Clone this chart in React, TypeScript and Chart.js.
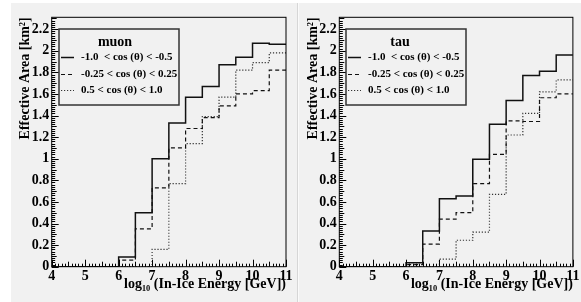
import React, { useEffect, useRef } from 'react';
import { Chart, registerables } from 'chart.js';

Chart.register(...registerables);

// ---------- data ----------
const BIN_EDGES = [4, 4.5, 5, 5.5, 6, 6.5, 7, 7.5, 8, 8.5, 9, 9.5, 10, 10.5, 11];
const SERIES_LABELS = ['-1.0  < cos (θ) < -0.5', '-0.25 < cos (θ) < 0.25', '0.5 < cos (θ) < 1.0'];

const MUON_SOLID = [0, 0, 0, 0, 0.09, 0.50, 1.00, 1.33, 1.57, 1.67, 1.87, 1.94, 2.07, 2.06];
const MUON_DASHED = [0, 0, 0, 0, 0.06, 0.35, 0.73, 1.10, 1.28, 1.38, 1.49, 1.60, 1.63, 1.82];
const MUON_DOTTED = [0, 0, 0, 0, 0, 0, 0.16, 0.77, 1.14, 1.39, 1.57, 1.82, 1.89, 1.98];

const TAU_SOLID = [0, 0, 0, 0, 0.037, 0.33, 0.63, 0.655, 0.995, 1.32, 1.54, 1.77, 1.81, 1.96];
const TAU_DASHED = [0, 0, 0, 0, 0.02, 0.21, 0.44, 0.50, 0.77, 1.04, 1.35, 1.345, 1.565, 1.60];
const TAU_DOTTED = [0, 0, 0, 0, 0, 0, 0.07, 0.245, 0.32, 0.67, 1.22, 1.42, 1.62, 1.73];

const X_TICKS = [4, 5, 6, 7, 8, 9, 10, 11];
const Y_TICKS = [0, 0.2, 0.4, 0.6, 0.8, 1, 1.2, 1.4, 1.6, 1.8, 2, 2.2];
const X_MIN = 4;
const X_MAX = 11;
const Y_MAX = 2.31;

const X_TITLE = 'log₁₀ (In-Ice Energy [GeV])';
const Y_TITLE = 'Effective Area [km²]';

const FONT = "'Liberation Serif', 'Times New Roman', serif";

function histPoints(vals: number[]) {
  return BIN_EDGES.map((e, i) => ({ x: e, y: i < vals.length ? vals[i] : vals[vals.length - 1] }));
}

const STYLES = [
  { dash: [] as number[], width: 1.5, color: '#111' },
  { dash: [4, 3], width: 1.2, color: '#111' },
  { dash: [1.2, 1.8], width: 1.2, color: '#333' },
];

const rootPlugin = {
  id: 'rootStyle',
  afterDatasetsDraw(chart: any, _args: any, opts: any) {
    const { ctx, chartArea: ca, scales } = chart;
    const xs = scales.x;
    const ys = scales.y;
    ctx.save();
    ctx.strokeStyle = '#000';
    ctx.lineWidth = 1;
    ctx.setLineDash([]);
    ctx.strokeRect(ca.left, ca.top, ca.right - ca.left, ca.bottom - ca.top);

    // x axis ticks (inside)
    const xStep = (X_TICKS[1] - X_TICKS[0]) / 10;
    const nx = Math.round((X_MAX - X_MIN) / xStep);
    ctx.beginPath();
    for (let i = 0; i <= nx; i++) {
      const v = X_MIN + i * xStep;
      const px = Math.round(xs.getPixelForValue(v)) + 0.5;
      const len = i % 10 === 0 ? 7 : i % 5 === 0 ? 5 : 3;
      ctx.moveTo(px, ca.bottom);
      ctx.lineTo(px, ca.bottom - len);
    }
    // y axis ticks (inside)
    const yStep = (Y_TICKS[1] - Y_TICKS[0]) / 10;
    for (let i = 0; i * yStep <= Y_MAX + 1e-9; i++) {
      const v = i * yStep;
      const py = Math.round(ys.getPixelForValue(v)) + 0.5;
      const len = i % 10 === 0 ? 7 : i % 5 === 0 ? 5 : 3.5;
      ctx.moveTo(ca.left, py);
      ctx.lineTo(ca.left + len, py);
    }
    ctx.stroke();

    // legend box
    const L = opts.legend;
    ctx.fillStyle = '#f1f1f1';
    ctx.fillRect(L.x, L.y, L.w, L.h);
    ctx.strokeStyle = '#333';
    ctx.lineWidth = 1.5;
    ctx.strokeRect(L.x, L.y, L.w, L.h);

    ctx.fillStyle = '#000';
    ctx.textBaseline = 'middle';
    ctx.textAlign = 'center';
    ctx.font = `bold ${L.titleSize}px ${FONT}`;
    ctx.fillText(L.title, L.titleX, L.titleY);

    ctx.textAlign = 'left';
    ctx.font = `bold ${L.textSize}px ${FONT}`;
    chart.data.datasets.forEach((ds: any, i: number) => {
      const yy = L.rows[i];
      ctx.beginPath();
      ctx.strokeStyle = ds.borderColor;
      ctx.lineWidth = ds.borderWidth;
      ctx.setLineDash(ds.borderDash || []);
      ctx.moveTo(L.s0, yy + 0.5);
      ctx.lineTo(L.s1, yy + 0.5);
      ctx.stroke();
      ctx.fillText(ds.label, L.tx, yy);
    });
    ctx.restore();
  },
};

type PanelProps = {
  series: number[][];
  width: number;
  height: number;
  padRight: number;
  yWidth: number;
  legend: any;
};

function Panel({ series, width, height, padRight, yWidth, legend }: PanelProps) {
  const ref = useRef<HTMLCanvasElement | null>(null);
  useEffect(() => {
    if (!ref.current) return;
    const chart = new Chart(ref.current, {
      type: 'line',
      data: {
        datasets: series.map((vals, i) => ({
          label: SERIES_LABELS[i],
          data: histPoints(vals),
          stepped: 'before' as const,
          borderColor: STYLES[i].color,
          borderWidth: STYLES[i].width,
          borderDash: STYLES[i].dash,
          pointRadius: 0,
          fill: false,
        })),
      },
      options: {
        animation: false,
        responsive: false,
        events: [],
        layout: { padding: { left: 0, right: padRight, top: 14.3, bottom: 0 } },
        plugins: {
          legend: { display: false },
          tooltip: { enabled: false },
          rootStyle: { legend },
        } as any,
        scales: {
          x: {
            type: 'linear',
            min: X_MIN,
            max: X_MAX,
            afterBuildTicks: (s: any) => { s.ticks = X_TICKS.map((v) => ({ value: v })); },
            afterFit: (s: any) => { s.height = 35.3; },
            grid: { display: false, drawTicks: false },
            border: { display: false },
            ticks: {
              padding: 1.5,
              color: '#000',
              font: { family: FONT, size: 14, weight: 'bold' },
              callback: (v: any) => String(v),
            },
            title: {
              display: true,
              text: X_TITLE,
              align: 'end',
              color: '#000',
              font: { family: FONT, size: 14, weight: 'bold' },
              padding: { top: 0, bottom: 9.2 },
            },
          },
          y: {
            type: 'linear',
            min: 0,
            max: Y_MAX,
            afterBuildTicks: (s: any) => { s.ticks = Y_TICKS.map((v) => ({ value: v })); },
            afterFit: (s: any) => { s.width = yWidth; },
            grid: { display: false, drawTicks: false },
            border: { display: false },
            ticks: {
              padding: 2.5,
              color: '#000',
              font: { family: FONT, size: 14, weight: 'bold' },
              callback: (v: any) => String(Number(Number(v).toFixed(2))),
            },
            title: {
              display: true,
              text: Y_TITLE,
              align: 'end',
              color: '#000',
              font: { family: FONT, size: 14, weight: 'bold' },
              padding: { top: 6.4, bottom: 0 },
            },
          },
        },
      } as any,
      plugins: [rootPlugin],
    });
    return () => chart.destroy();
  }, []);
  return <canvas ref={ref} width={width} height={height} style={{ display: 'block' }} />;
}

export default function App() {
  useEffect(() => {
    document.body.style.margin = '0';
  }, []);
  return (
    <div style={{ position: 'relative', width: 581, height: 302, background: '#fff', overflow: 'hidden' }}>
      <div style={{ position: 'absolute', left: 11, top: 3, width: 286, height: 299, background: '#f1f1f1' }}>
        <Panel
          series={[MUON_SOLID, MUON_DASHED, MUON_DOTTED]}
          width={286}
          height={299}
          padRight={11}
          yWidth={40.7}
          legend={{ x: 48, y: 26, w: 120, h: 76, title: 'muon', titleX: 104, titleY: 39, titleSize: 14, textSize: 11, s0: 50, s1: 63, tx: 70, rows: [54, 71, 87] }}
        />
      </div>
      <div style={{ position: 'absolute', left: 297, top: 3, width: 1, height: 299, background: '#d6d6d6' }} />
      <div style={{ position: 'absolute', left: 298, top: 3, width: 1, height: 299, background: '#fafafa' }} />
      <div style={{ position: 'absolute', left: 299, top: 3, width: 282, height: 299, background: '#f1f1f1' }}>
        <Panel
          series={[TAU_SOLID, TAU_DASHED, TAU_DOTTED]}
          width={282}
          height={299}
          padRight={7.7}
          yWidth={40.3}
          legend={{ x: 47, y: 26, w: 120, h: 76, title: 'tau', titleX: 101, titleY: 39, titleSize: 14, textSize: 11, s0: 49, s1: 62, tx: 69, rows: [54, 71, 87] }}
        />
      </div>
    </div>
  );
}
